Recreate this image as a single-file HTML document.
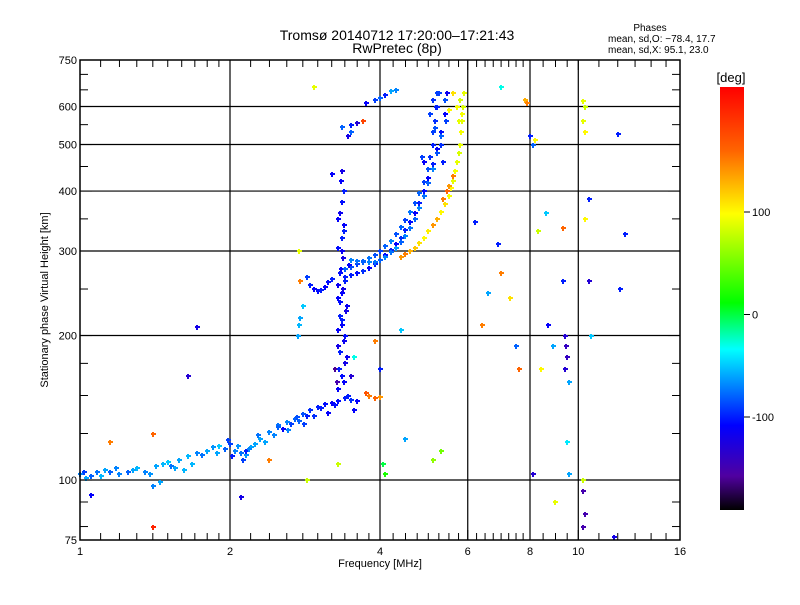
<!DOCTYPE html>
<html><head><meta charset="utf-8"><style>
body{margin:0;background:#fff;}
svg text{font-family:"Liberation Sans",sans-serif;fill:#000;}
</style></head><body>
<svg id="chart" width="800" height="600" xmlns="http://www.w3.org/2000/svg">
<rect width="800" height="600" fill="#fff"/>
<text x="397" y="40" font-size="14" text-anchor="middle">Tromsø 20140712 17:20:00–17:21:43</text>
<text x="397" y="53" font-size="14" text-anchor="middle">RwPretec (8p)</text>
<text x="650" y="31" font-size="10" text-anchor="middle">Phases</text>
<text x="608" y="42" font-size="10">mean, sd,O: −78.4, 17.7</text>
<text x="608" y="53" font-size="10">mean, sd,X:  95.1, 23.0</text>
<g id="grid"></g>
<g id="points"></g>
<rect x="80" y="60" width="600" height="480" fill="none" stroke="#000" stroke-width="1.5"/>
<g id="ticks"></g>
<text x="380" y="567" font-size="11" text-anchor="middle">Frequency [MHz]</text>
<text transform="translate(48,300) rotate(-90)" font-size="11" text-anchor="middle">Stationary phase Virtual Height [km]</text>
<defs><linearGradient id="cb" x1="0" y1="0" x2="0" y2="1">
<stop offset="0" stop-color="#ff0000"/><stop offset="0.15" stop-color="#ff6400"/><stop offset="0.30" stop-color="#ffff00"/><stop offset="0.51" stop-color="#00ff00"/><stop offset="0.62" stop-color="#00ffff"/><stop offset="0.80" stop-color="#0000ff"/><stop offset="0.92" stop-color="#5000a0"/><stop offset="1" stop-color="#000000"/>
</linearGradient></defs>
<text x="731" y="82" font-size="13" text-anchor="middle">[deg]</text>
<rect x="720" y="87" width="24" height="423" fill="url(#cb)"/>
<g id="cbticks"></g>
</svg>
<script>
const xTickLabels=[1,2,4,6,8,10,16];
const yTickLabels=[75,100,200,300,400,500,600,750];
const gridFreqs=[2,4,6,8,10];
const gridHeights=[100,200,300,400,500,600];
const xMinor=[1.1,1.2,1.3,1.4,1.5,1.6,1.7,1.8,1.9,2.2,2.4,2.6,2.8,3,3.2,3.4,3.6,3.8,4.25,4.5,4.75,5,5.25,5.5,5.75,6.25,6.5,6.75,7,7.25,7.5,7.75,8.5,9,9.5,11,12,13,14,15];
const yMinor=[80,90,125,150,175,250,350,450,550,650,700];
const cbValues=[100,0,-100];
const freqs=[1.0,1.02,1.05,1.08,1.12,1.15,1.2,1.25,1.3,1.35,1.42,1.47,1.52,1.58,1.65,1.72,1.8,1.85,1.9,1.95,2.0,2.05,2.1,2.15,2.2,2.3,2.4,2.5,2.6,2.7,2.8,2.9,3.0,3.1,3.2,3.3,3.4,3.5,3.6,1.4,1.45,1.62,2.02,2.12,2.25,2.45,2.55,2.65,2.75,2.85,
3.8,3.9,4.0,3.75,
3.3,3.35,3.4,3.32,3.38,3.3,3.36,3.42,3.33,3.35,3.3,3.4,3.34,3.37,3.3,3.35,3.39,3.32,3.36,3.38,3.34,3.35,3.28,3.45,3.25,3.5,
2.85,2.9,2.95,3.0,3.05,3.1,3.15,3.2,2.74,2.75,2.76,2.8,2.76,2.75,
3.4,3.5,3.6,3.7,3.8,3.9,4.0,4.1,4.2,4.3,4.4,4.5,4.6,4.7,4.8,4.9,5.0,5.05,5.1,5.12,5.15,5.18,5.2,
3.5,3.6,3.7,3.8,3.9,4.0,4.1,4.2,4.3,4.4,4.5,4.6,4.7,4.8,4.9,5.0,5.1,5.2,5.3,5.4,5.45,
3.5,3.6,3.7,3.8,3.9,4.0,4.1,4.2,4.3,4.4,4.5,4.6,4.7,4.8,4.9,5.0,5.1,5.2,5.3,
4.4,4.5,4.6,4.7,4.8,4.9,5.0,5.1,5.2,5.3,5.4,5.5,5.55,5.6,5.65,5.7,5.75,5.8,5.82,5.85,5.88,5.9,5.35,5.45,5.5,5.6,
3.9,4.0,4.1,4.2,4.3,3.75,3.5,3.35,3.6,3.7,3.45,3.5,3.2,2.95,
1.72,1.65,1.15,1.4,2.15,2.4,2.1,1.05,1.4,2.85,3.3,4.1,4.05,4.5,6.2,6.4,6.6,6.9,7.0,7.3,7.5,7.6,7.8,7.9,8.0,8.1,8.2,8.3,8.1,8.4,8.6,8.7,8.9,9.0,9.3,9.3,9.4,9.45,9.5,9.4,9.6,9.5,9.6,10.2,10.3,10.2,10.3,10.3,10.5,10.5,10.6,10.2,10.2,10.3,10.2,12.0,12.4,12.1,11.8,7.0,4.9,4.85,3.55,3.9,4.4,4.0,5.1,5.3,
1.03,1.1,1.18,1.28,1.38,1.5,1.55,1.68,1.76,1.88,1.98,2.08,2.18,2.28,2.35,2.5,2.62,2.72,2.82,2.95,3.05,3.15,3.25,3.45,3.55,
3.38,3.31,3.44,3.29,3.41,3.36,3.33,3.43,3.3,3.37,3.4,3.32,3.46,3.35,3.39,3.3,
5.05,5.1,5.15,5.2,5.25,5.3,5.35,5.4,5.42,5.5,5.6,5.7,5.75,5.8,5.85];
const heights=[103,104,102,104,105,104,103,104,106,104,107,108,107,110,112,114,115,117,118,116,119,115,114,113,117,122,126,130,132,134,137,140,142,144,145,146,148,147,146,97,99,105,112,110,119,124,128,131,133,136,
150,148,149,152,
155,165,175,185,195,205,215,225,235,245,255,265,275,290,305,320,340,360,380,400,420,440,160,150,170,165,
265,255,250,248,249,252,258,262,200,210,218,230,260,300,
275,278,282,286,290,294,300,307,315,325,336,348,362,378,396,418,445,470,500,530,560,600,640,
268,270,272,276,282,288,295,302,310,320,332,345,360,378,400,425,455,490,530,580,640,
288,286,285,284,285,287,292,298,305,313,323,335,350,368,390,415,445,480,520,
292,296,300,305,312,320,330,340,350,362,375,390,405,420,440,460,480,500,530,560,600,640,385,400,410,430,
620,625,635,645,650,610,550,545,555,560,520,530,435,660,
208,165,120,125,115,110,92,93,80,100,108,103,108,122,345,210,245,310,270,240,190,170,620,610,520,500,510,330,103,170,360,210,190,90,335,260,200,190,180,170,160,120,103,615,600,560,530,350,385,260,200,95,100,85,80,525,325,250,76,660,460,470,180,195,205,170,110,115,
101,102,106,105,103,109,106,108,113,114,121,118,116,124,120,129,127,135,131,136,141,138,143,150,140,
160,170,180,190,200,210,220,230,240,250,260,270,280,300,330,350,
580,620,540,600,640,500,460,620,560,590,640,600,560,620,580];
const phases=[-70,-90,-80,-75,-60,-80,-70,-80,-55,-70,-60,-55,-75,-60,-55,-70,-60,-65,-50,-80,-90,-70,-75,-65,-60,-60,-70,-75,-70,-80,-85,-95,-100,-105,-110,-105,-100,-95,-110,-70,-60,-55,-100,-90,-60,-70,-110,-90,-80,-100,
150,160,140,170,
-110,-105,-120,-100,-115,-110,-100,-120,-105,-110,-115,-100,-110,-120,-105,-100,-110,-115,-105,-100,-110,-120,-150,-140,-160,-130,
-90,-100,-110,-105,-100,-110,-105,-100,-60,-55,-60,-50,150,90,
-80,-85,-90,-80,-75,-85,-90,-80,-70,-85,-80,-90,-75,-85,-80,-90,-85,-95,-100,-90,-95,-100,-90,
-100,-105,-95,-110,-100,-95,-105,-100,-110,-95,-100,-105,-110,-100,-105,-110,-100,-110,-105,-110,-115,
-70,-75,-80,-70,-75,-80,-70,-75,-65,-80,-70,-75,-80,-70,-75,-80,-70,-85,-80,
140,150,130,120,110,100,105,140,130,100,110,95,100,90,95,90,85,90,95,90,85,90,150,160,140,150,
-90,-80,-100,-60,-70,-110,-100,-80,-130,180,-120,-80,-110,90,
-120,-130,150,160,-100,150,-120,-110,200,80,80,20,0,-60,-100,150,-60,-100,150,110,-80,160,130,150,-100,-80,100,80,-130,100,-50,-110,-60,90,160,-100,-130,-140,-140,-130,-60,-40,-60,90,80,90,100,100,-100,-130,-50,-150,80,-150,-150,-100,-100,-100,-120,-30,-110,-90,-30,150,-50,-100,60,50,
-60,-55,-70,-60,-65,-50,-60,-55,-75,-60,-90,-65,-70,-75,-60,-80,-70,-85,-90,-95,-100,-110,-105,-100,-110,
-110,-100,-115,-120,-105,-110,-100,-115,-110,-120,-100,-105,-110,-115,-100,-110,
-90,-95,-85,-100,-90,-95,-100,-85,-90,100,110,95,90,85,95];

const NS='http://www.w3.org/2000/svg';
function xs(f){return 80+150*Math.log2(f);}
function ys(h){return 540-480*Math.log10(h/75);}
const stops=[[0,[255,0,0]],[0.15,[255,100,0]],[0.30,[255,255,0]],[0.51,[0,255,0]],[0.62,[0,255,255]],[0.80,[0,0,255]],[0.92,[80,0,160]],[1,[0,0,0]]];
function pcol(p){let t=((314.5-1.025*p)-87)/423;t=Math.max(0,Math.min(1,t));
 for(let i=1;i<stops.length;i++){if(t<=stops[i][0]){const a=stops[i-1],b=stops[i];const u=(t-a[0])/(b[0]-a[0]);
 return 'rgb('+a[1].map((c,k)=>Math.round(c+(b[1][k]-c)*u)).join(',')+')';}}return '#000';}
function mk(tag,attrs,parent){const e=document.createElementNS(NS,tag);for(const k in attrs)e.setAttribute(k,attrs[k]);parent.appendChild(e);return e;}
const grid=document.getElementById('grid'),ticks=document.getElementById('ticks'),pts=document.getElementById('points'),cbt=document.getElementById('cbticks');
gridFreqs.forEach(f=>{const l=mk('line',{x1:xs(f),x2:xs(f),y1:60,y2:540,stroke:'#000','stroke-width':1.2},grid);

});
gridHeights.forEach(h=>{const l=mk('line',{x1:80,x2:680,y1:ys(h),y2:ys(h),stroke:'#000','stroke-width':1.2},grid);

});
xTickLabels.forEach(f=>{const t=mk('text',{x:xs(f),y:555,'font-size':11,'text-anchor':'middle'},ticks);t.textContent=f;


mk('line',{x1:xs(f),x2:xs(f),y1:540,y2:530,stroke:'#000'},ticks);mk('line',{x1:xs(f),x2:xs(f),y1:60,y2:70,stroke:'#000'},ticks);});
xMinor.forEach(f=>{mk('line',{x1:xs(f),x2:xs(f),y1:540,y2:533,stroke:'#000'},ticks);mk('line',{x1:xs(f),x2:xs(f),y1:60,y2:67,stroke:'#000'},ticks);});
yTickLabels.forEach(h=>{const t=mk('text',{x:77,y:ys(h)+4,'font-size':11,'text-anchor':'end'},ticks);t.textContent=h;


mk('line',{x1:80,x2:92,y1:ys(h),y2:ys(h),stroke:'#000'},ticks);mk('line',{x1:668,x2:680,y1:ys(h),y2:ys(h),stroke:'#000'},ticks);});
yMinor.forEach(h=>{mk('line',{x1:80,x2:88,y1:ys(h),y2:ys(h),stroke:'#000'},ticks);mk('line',{x1:672,x2:680,y1:ys(h),y2:ys(h),stroke:'#000'},ticks);});
cbValues.forEach(v=>{const y=314.5-1.025*v;mk('line',{x1:744,x2:750,y1:y,y2:y,stroke:'#000'},cbt);
const t=mk('text',{x:752,y:y+4,'font-size':11},cbt);t.textContent=v;

});
for(let i=0;i<freqs.length;i++){const x=Math.round(xs(freqs[i])),y=Math.round(ys(heights[i])),c=pcol(phases[i]);
const g=mk('path',{d:`M${x-2} ${y}h5M${x} ${y-2}v5`,stroke:c,'stroke-width':2,fill:'none'},pts);

}
</script>
</body></html>
